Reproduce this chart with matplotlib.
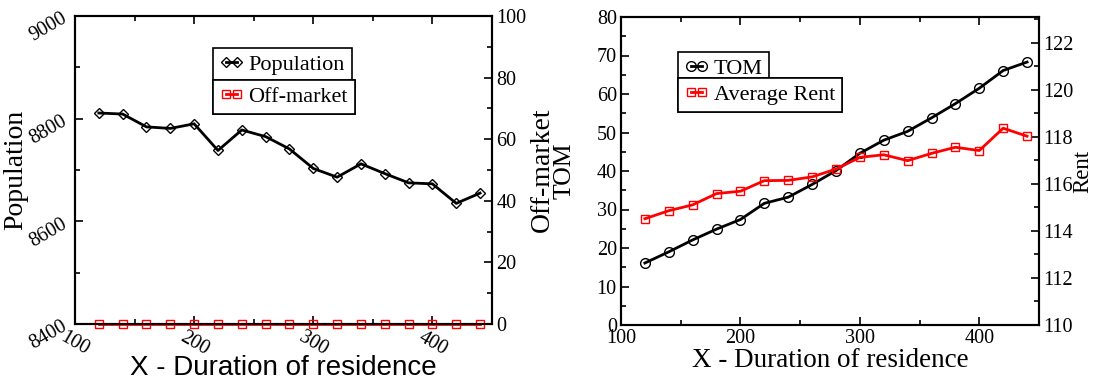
import matplotlib
matplotlib.use("Agg")
import matplotlib.pyplot as plt
from matplotlib.ticker import MultipleLocator

# data
duration = [120, 140, 160, 180, 200, 220, 240, 260, 280, 300, 320, 340, 360, 380, 400, 420, 440]
population = [8811, 8809, 8784, 8781, 8790, 8738, 8778, 8765, 8741, 8703,
              8686, 8712, 8693, 8675, 8673, 8635, 8655]
off_market = [0] * 17
tom = [16.1, 19.0, 22.1, 24.9, 27.4, 31.6, 33.2, 36.5, 40.1, 44.6,
       48.0, 50.3, 53.8, 57.5, 61.5, 66.1, 68.3]
avg_rent = [114.52, 114.86, 115.11, 115.59, 115.69, 116.14, 116.15, 116.30, 116.63, 117.13,
            117.24, 116.99, 117.30, 117.56, 117.42, 118.37, 118.03]

plt.rcParams['font.family'] = ['Liberation Serif', 'DejaVu Serif']
plt.rcParams['xtick.direction'] = 'in'
plt.rcParams['ytick.direction'] = 'in'
plt.rcParams['xtick.top'] = True
plt.rcParams['axes.linewidth'] = 1.5

W, H = 1096, 383
fig = plt.figure(figsize=(W / 100, H / 100), dpi=100)


def fig_box(x0, y0, x1, y1):
    # pixel box (from top-left) -> figure fraction rect
    return [x0 / W, 1 - y1 / H, (x1 - x0) / W, (y1 - y0) / H]


def style_ticks(ax):
    ax.tick_params(which='major', length=6, width=1.2, labelsize=14.5, pad=3)
    ax.tick_params(which='minor', length=3.5, width=1.2)


def add_legend(ax, handle, label, x, y):
    leg = ax.legend([handle], [label], loc='upper left', bbox_to_anchor=(x / W, 1 - y / H),
                    bbox_transform=fig.transFigure, fontsize=16, fancybox=False,
                    framealpha=1, edgecolor='black', borderaxespad=0, borderpad=0.3,
                    handlelength=1.1, handletextpad=0.2, numpoints=2)
    leg.get_frame().set_linewidth(1.2)
    ax.add_artist(leg)


# ---------- left panel: population ----------
ax1 = fig.add_axes(fig_box(75, 16, 492, 324))
ax1b = ax1.twinx()
l_pop, = ax1.plot(duration, population, color='black', lw=2, marker='D', ms=5.5,
                  mfc='none', mec='black', mew=1)
l_off, = ax1b.plot(duration, off_market, color='red', lw=2, marker='s', ms=6,
                   mfc='none', mec='red', mew=1, clip_on=False)
ax1.set_xlim(100, 450)
ax1.set_ylim(8400, 9000)
ax1b.set_ylim(0, 100)
ax1.xaxis.set_major_locator(MultipleLocator(100))
ax1.xaxis.set_minor_locator(MultipleLocator(50))
ax1.yaxis.set_major_locator(MultipleLocator(200))
ax1.yaxis.set_minor_locator(MultipleLocator(100))
ax1b.yaxis.set_major_locator(MultipleLocator(20))
ax1b.yaxis.set_minor_locator(MultipleLocator(10))
for a in (ax1, ax1b):
    style_ticks(a)
for t in ax1.get_xticklabels():
    t.set_rotation(-30)
for t in ax1.get_yticklabels():
    t.set_rotation(30)
ax1.set_ylabel('Population', fontsize=20)
ax1.yaxis.set_label_coords(-0.113, 0.5)
ax1b.set_ylabel('Off-market', fontsize=20)
ax1b.yaxis.set_label_coords(1.09, 0.5)
ax1.set_xlabel('X - Duration of residence', fontsize=20, family='Liberation Sans')
ax1.xaxis.set_label_coords(0.5, -0.1)
add_legend(ax1b, l_pop, 'Population', 213, 48)
add_legend(ax1b, l_off, 'Off-market', 213, 80)

# ---------- right panel: TOM and rent ----------
ax2 = fig.add_axes(fig_box(621, 17, 1039, 325))
ax2b = ax2.twinx()
l_tom, = ax2.plot(duration, tom, color='black', lw=2, marker='o', ms=7,
                  mfc='none', mec='black', mew=1)
l_rent, = ax2b.plot(duration, avg_rent, color='red', lw=2, marker='s', ms=6,
                    mfc='none', mec='red', mew=1)
ax2.set_xlim(100, 450)
ax2.set_ylim(0, 80)
ax2b.set_ylim(110, 123.1)
ax2.xaxis.set_major_locator(MultipleLocator(100))
ax2.xaxis.set_minor_locator(MultipleLocator(50))
ax2.yaxis.set_major_locator(MultipleLocator(10))
ax2.yaxis.set_minor_locator(MultipleLocator(5))
ax2b.yaxis.set_major_locator(MultipleLocator(2))
ax2b.yaxis.set_minor_locator(MultipleLocator(1))
for a in (ax2, ax2b):
    style_ticks(a)
ax2.set_ylabel('TOM', fontsize=18.5)
ax2.yaxis.set_label_coords(-0.108, 0.5)
ax2b.set_ylabel('Rent', fontsize=16.5)
ax2b.yaxis.set_label_coords(1.08, 0.5)
ax2.set_xlabel('X - Duration of residence', fontsize=19.5)
ax2.xaxis.set_label_coords(0.5, -0.075)
add_legend(ax2b, l_tom, 'TOM', 678, 52)
add_legend(ax2b, l_rent, 'Average Rent', 678, 78)

fig.savefig('out.png', dpi=100)
